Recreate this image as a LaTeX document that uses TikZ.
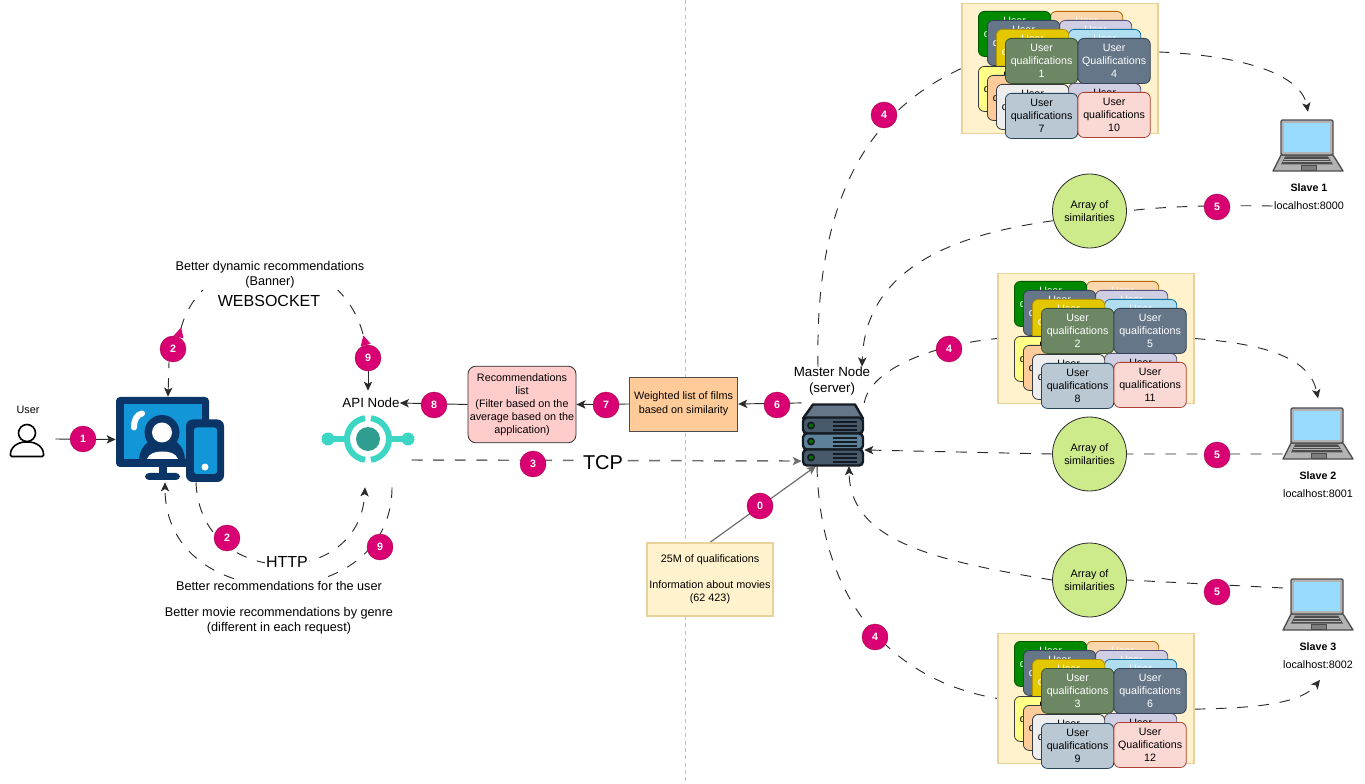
\documentclass[tikz,border=0pt]{standalone}
\usepackage{fontspec}
\setmainfont{Liberation Sans}
\usetikzlibrary{shapes.geometric, arrows.meta, positioning, calc, backgrounds}
\definecolor{badgepink}{HTML}{d80073}
\definecolor{badgeline}{HTML}{a50040}
\definecolor{linkgray}{HTML}{2b2b2b}
\definecolor{tcpgray}{HTML}{6e6e6e}
\definecolor{navy}{HTML}{0a3566}
\definecolor{screenblue}{HTML}{1296d8}
\definecolor{apiteal}{HTML}{3dd6c4}
\definecolor{apicore}{HTML}{2f9d90}
\definecolor{panelfill}{HTML}{fff2cc}
\definecolor{panelline}{HTML}{e6d29a}
\definecolor{arrayfill}{HTML}{cdeb8b}
\definecolor{recfill}{HTML}{ffcccc}
\definecolor{weightfill}{HTML}{ffcc99}
\definecolor{lapscreen}{HTML}{99daff}
\definecolor{lapgray}{HTML}{b3b3b3}
\definecolor{lapdark}{HTML}{4d4d4d}
\definecolor{srvdark}{HTML}{151b22}
\definecolor{srvfill}{HTML}{465a6b}
\definecolor{srvmid}{HTML}{5d8199}
\definecolor{srvtop}{HTML}{647687}

\tikzset{
    laptopicon/.pic={
        \fill[lapgray, draw=lapdark, line width=1pt, line join=round]
            (-27,9.5) -- (25,9.5) -- (35,25.5) -- (-35,25.5) -- cycle;
        \fill[lapdark] (-23,11) -- (20,11) -- (25,19) -- (-27,19) -- cycle;
        \draw[lapgray, line width=.3pt] (-24,13.5) -- (21,13.5);
        \draw[lapgray, line width=.3pt] (-25,16.2) -- (23,16.2);
        \fill[lapgray!70!black, draw=lapdark, line width=.4pt] (-7,20) rectangle (8,25);
        \draw[lapdark, fill=lapgray, line width=1pt, rounded corners=1pt] (-27,-25.5) rectangle (25,9.5);
        \fill[lapscreen] (-24,-22.5) rectangle (22,6.5);
    },
    servericon/.pic={
        \fill[srvtop, draw=srvdark, line width=1.8pt, line join=round]
            (-30,-16) -- (-20,-30) -- (22,-30) -- (30,-16) -- cycle;
        \foreach \ya/\yb/\c in {-17/-1/srvfill, -1/15/srvmid, 15/31/srvfill}{
            \draw[srvdark, fill=\c, line width=1.8pt, rounded corners=3pt] (-30,\ya) rectangle (30,\yb);
            \fill[srvdark] (-22,\ya+8) circle[radius=4];
            \fill[green!45!black] (-22,\ya+8) circle[radius=2];
            \fill[srvdark] (0,\ya+4) rectangle (24,\ya+6);
            \fill[srvdark] (0,\ya+8) rectangle (24,\ya+10);
            \fill[srvdark] (0,\ya+12) rectangle (24,\ya+14);
        }
    },
    deskicon/.pic={
        \fill[navy] (-11,27) rectangle (-3,35);
        \fill[navy, rounded corners=3pt] (-25,33.5) rectangle (10,40.5);
        \fill[navy, rounded corners=3pt] (-54,-42.5) rectangle (39,27.5);
        \fill[screenblue] (-46,-35.5) rectangle (32,19.5);
        \draw[white, line width=4.5pt, line cap=round] (-36,-12) .. controls (-36,-20) and (-33,-25) .. (-28,-26);
        \fill[navy] (-31,19.5) .. controls (-30,5) and (-18,-2) .. (-8,-2)
            .. controls (4,-2) and (14,5) .. (15,19.5) -- cycle;
        \fill[white] (-23,19.5) .. controls (-21,14) and (-15,12) .. (-8,12)
            .. controls (0,12) and (6,14) .. (8,19.5) -- cycle;
        \fill[navy] (-8,-7) circle[radius=17.5];
        \fill[white] (-8,-7) circle[radius=10];
        \fill[navy, rounded corners=5pt] (16,-20) rectangle (54,42.5);
        \fill[screenblue, rounded corners=2pt] (24,-12) rectangle (47,34.5);
        \fill[white] (35,27.5) circle[radius=3.5];
    },
    apiicon/.pic={
        \draw[apiteal, line width=4.5pt] (-40,0) -- (-20,0);
        \draw[apiteal, line width=4.5pt] (40,0) -- (20,0);
        \fill[apiteal] (-40,0) circle[radius=6.5];
        \fill[apiteal] (40,0) circle[radius=6.5];
        \draw[white, line width=2pt] (0,0) circle[radius=21];
        \draw[apiteal, line width=4.5pt] (0,0)+(98:21) arc[start angle=98, end angle=262, radius=21];
        \draw[apiteal, line width=4.5pt] (0,0)+(82:21) arc[start angle=82, end angle=-82, radius=21];
        \fill[apicore] (0,0) circle[radius=12];
    },
    usericon/.pic={
        \draw[black, fill=white, line width=1.2pt, rounded corners=1pt]
            (-16.5,17.5) .. controls (-17,8) and (-9,3) .. (0,3)
            .. controls (9,3) and (17,8) .. (16.5,17.5) -- cycle;
        \draw[black, fill=white, line width=1.2pt] (0,-6) circle[radius=8.5];
    }
}

\newcommand{\qualstack}[9]{
    \begin{scope}[shift={(#2,#3)}]
        \node[panel] (#1panel) at (1060,68.5) {};
        \foreach \cx/\cy/\cfill/\cdraw/\ctext [count=\i] in {
            1050/11/fad7ac/b46504/white, 1059/20/d0cee2/56517e/white, 1068/29/b1ddf0/10739e/white,
            978/11/008a00/005700/white, 987/20/647687/314354/white, 996/29/e3c800/b09500/white,
            1068/83/d0cee2/56517e/black, 978/66/ffff88/36393d/black, 987/75/ffcc99/36393d/black,
            996/84/eeeeee/36393d/black}{
            \definecolor{cf}{HTML}{\cfill}\definecolor{cd}{HTML}{\cdraw}
            \node[card, fill=cf, draw=cd, text=\ctext] (#1back\i) at (\cx,\cy) {User\\qualifications\\~};
        }
        \node[card, fill=cardolive, draw=cardolived, text=white] (#1a) at (1005,38) {User\\qualifications\\#4};
        \node[card, fill=cardslate, draw=cardslated, text=white] (#1b) at (1077.5,38) {User\\#5\\#6};
        \node[card, fill=cardsteel, draw=cardsteeld] (#1c) at (1005,93) {User\\qualifications\\#7};
        \node[card, fill=cardrose, draw=cardrosed] (#1d) at (1077.5,92) {User\\#8\\#9};
    \end{scope}
}
\definecolor{cardolive}{HTML}{6d8764}
\definecolor{cardolived}{HTML}{3a5431}
\definecolor{cardslate}{HTML}{647687}
\definecolor{cardslated}{HTML}{314354}
\definecolor{cardsteel}{HTML}{bac8d3}
\definecolor{cardsteeld}{HTML}{23445d}
\definecolor{cardrose}{HTML}{fad9d5}
\definecolor{cardrosed}{HTML}{ae4132}

\begin{document}
\begin{tikzpicture}[
    x=0.75pt, y=-0.75pt,
    txt/.style={font=\fontsize{8.1}{9.75}\selectfont, align=center, inner sep=1pt},
    mid/.style={font=\fontsize{9.5}{11.25}\selectfont, align=center, inner sep=1pt, fill=white},
    big/.style={font=\fontsize{12}{14}\selectfont, inner sep=1.5pt, fill=white},
    badge/.style={circle, fill=badgepink, draw=badgeline, line width=.3pt, minimum size=19.5pt, inner sep=0pt,
                  text=white, font=\fontsize{8}{9}\bfseries\selectfont},
    iconbox/.style={rectangle, inner sep=0pt},
    panel/.style={rectangle, fill=panelfill, draw=panelline, line width=.9pt,
                  minimum width=147pt, minimum height=97pt, inner sep=0pt},
    card/.style={rectangle, anchor=north west, rounded corners=4.5pt, line width=.6pt, minimum width=54.3pt,
                 minimum height=33.8pt, inner sep=0pt, align=center, font=\fontsize{8}{9.75}\selectfont},
    stepbox/.style={rectangle, txt, line width=.6pt, draw=linkgray},
    simbox/.style={circle, fill=arrayfill, draw=linkgray, line width=.6pt, minimum size=55.5pt, inner sep=0pt, txt},
    link/.style={line width=.7pt, linkgray, dash pattern=on 8pt off 8pt},
    tip/.style={-{Stealth[length=2.4mm, width=2.2mm, inset=.6mm]}},
    tcplink/.style={line width=1.1pt, tcpgray, dash pattern=on 8.2pt off 8pt},
    feed/.style={line width=.9pt, tcpgray},
    divider/.style={line width=.5pt, lightgray, dash pattern=on 3pt off 2.5pt}
]
    \useasboundingbox (0,0) rectangle (1365,784);

    % left side
    \node[iconbox, minimum width=33.75pt, minimum height=27pt] (user) at (32.5,439) {};
    \node[txt] (userlbl) at (28,410) {User};
    \pic at (27,439) {usericon};
    \node[iconbox, minimum width=81pt, minimum height=63.75pt] (desk) at (170,439.5) {};
    \pic at (170,439.5) {deskicon};
    \node[iconbox, minimum width=69pt, minimum height=72pt] (apinode) at (368,439) {};
    \pic at (368,439) {apiicon};
    \node[font=\fontsize{10}{12}\selectfont, inner sep=0pt] (apilbl) at (371,403) {API Node};

    \node[mid] (bannerlbl) at (270,275) {Better dynamic recommendations\\(Banner)};
    \node[big] (wslbl) at (269,301) {WEBSOCKET};
    \node[big, inner sep=.5pt] (httplbl) at (287,562) {HTTP};
    \node[mid, inner ysep=2pt] (reclbl) at (279,586) {Better recommendations for the user};
    \node[mid] (genrelbl) at (279,620.5) {Better movie recommendations by genre\\(different in each request)};

    % centre boxes
    \node[stepbox, fill=recfill, rounded corners=6pt, minimum width=81pt, minimum height=57.5pt] (reclist) at (522,404.5)
        {Recommendations\\list\\(Filter based on the\\average based on the\\application)};
    \node[stepbox, fill=weightfill, draw=lapdark, minimum width=81.5pt, minimum height=40.5pt,
          font=\fontsize{8.1}{10.5}\selectfont] (weighted) at (683.5,404)
        {Weighted list of films\\based on similarity};
    \node[stepbox, fill=panelfill, draw=panelline, line width=.9pt, minimum width=94.5pt, minimum height=54.8pt] (infobox) at (710,579.5)
        {25M of qualifications\\~\\Information about movies\\(62 423)};
    \node[big, font=\fontsize{15}{17}\selectfont, inner sep=1pt] (tcplbl) at (603,463) {TCP};

    % master
    \node[iconbox, minimum width=46.5pt, minimum height=47pt] (server) at (833,434.5) {};
    \pic at (833,434.5) {servericon};
    \node[font=\fontsize{10}{12}\selectfont, align=center, inner sep=0pt] (masterlbl) at (832,381) {Master Node\\(server)};

    % stacks of cards
    \qualstack{top}{0}{0}{1}{Qualifications}{4}{7}{qualifications}{10}
    \qualstack{mida}{36}{270}{2}{qualifications}{5}{8}{qualifications}{11}
    \qualstack{low}{36}{630}{3}{qualifications}{6}{9}{Qualifications}{12}

    % arrays
    \node[simbox] (arrayone) at (1089.5,211) {Array of\\similarities};
    \node[simbox] (arraytwo) at (1089.5,454) {Array of\\similarities};
    \node[simbox] (arraythree) at (1089.5,580) {Array of\\similarities};

    % slaves
    \node[iconbox, minimum width=52.5pt, minimum height=38.25pt] (slaveone) at (1308,145.5) {};
    \pic at (1308,145.5) {laptopicon};
    \node[txt, font=\fontsize{8}{9.75}\bfseries\selectfont] (slaveonelbl) at (1309,188) {Slave 1};
    \node[txt, minimum height=22pt] (hostone) at (1309,206) {localhost:8000};
    \node[iconbox, minimum width=52.5pt, minimum height=38.25pt] (slavetwo) at (1318,433.5) {};
    \pic at (1318,433.5) {laptopicon};
    \node[txt, font=\fontsize{8}{9.75}\bfseries\selectfont] (slavetwolbl) at (1318,476) {Slave 2};
    \node[txt, minimum height=22pt] (hosttwo) at (1318,494) {localhost:8001};
    \node[iconbox, minimum width=52.5pt, minimum height=38.25pt] (slavethree) at (1318,604.5) {};
    \pic at (1318,604.5) {laptopicon};
    \node[txt, font=\fontsize{8}{9.75}\bfseries\selectfont] (slavethreelbl) at (1318,647) {Slave 3};
    \node[txt, minimum height=22pt] (hostthree) at (1318,665) {localhost:8002};

    % badges
    \node[badge] (bzero) at (760,506) {0};
    \node[badge] (bone) at (83,439) {1};
    \node[badge] (btwo) at (173,349) {2};
    \node[badge] (btwob) at (227,538) {2};
    \node[badge] (bthree) at (533,464) {3};
    \node[badge] (bfoura) at (884,115) {4};
    \node[badge] (bfourb) at (949,349) {4};
    \node[badge] (bfourc) at (875,637) {4};
    \node[badge] (bfivea) at (1217,207) {5};
    \node[badge] (bfiveb) at (1217,455) {5};
    \node[badge] (bfivec) at (1217,592) {5};
    \node[badge] (bsix) at (777,405) {6};
    \node[badge] (bseven) at (606,405) {7};
    \node[badge] (beight) at (434,405) {8};
    \node[badge] (bnine) at (368,358) {9};
    \node[badge] (bnineb) at (380,547) {9};

    \coordinate (divtop) at (685,0);
    \coordinate (divbot) at (685,784);

    \begin{scope}[on background layer]
        \draw[divider] (divtop) -- (divbot);

        \draw[line width=.7pt, linkgray, tip] (user.east) -- (desk.west);
        \draw[link, {Triangle[reversed, length=2.6mm, width=2.6mm, color=badgepink]}-{Triangle[reversed, length=2.6mm, width=2.6mm, color=badgepink]}]
            (btwo.65) .. controls (205,240) and (340,240) .. (bnine.100);
        \draw[link, dash pattern=on 4.5pt off 7.5pt on 14pt off 1pt, tip] ([xshift=-3pt]btwo.south) -- ([xshift=-1.5pt]desk.north);
        \draw[link, dash pattern=on 12pt off 1pt, tip] (bnine.south) -- (apinode.north);
        \draw[link, tip] ([xshift=18pt]apinode.south) .. controls (392,618) and (165,618) .. ([xshift=-3.75pt]desk.south);
        \draw[link, tip] ([xshift=19.5pt]desk.south) .. controls (200,590) and (360,590) .. ([xshift=-2.25pt]apinode.south);

        \draw[line width=.7pt, linkgray, tip] (reclist.west) -- (apilbl.east);
        \draw[line width=.7pt, linkgray, tip] (weighted.west) -- (reclist.east);
        \draw[line width=.7pt, linkgray, tip] (server.north west) -- (weighted.east);
        \draw[tcplink, tip] ([xshift=-2pt,yshift=-15.75pt]apinode.east) -- ([yshift=-19.9pt]server.west);
        \draw[feed, tip] (infobox.north) -- ([xshift=-12.75pt]server.south);

        \draw[link] ([xshift=-10.5pt]masterlbl.north) .. controls (815,210) and (860,115) .. (toppanel.west);
        \draw[link] (server.north east) .. controls (870,370) and (930,345) .. (midapanel.west);
        \draw[link] ([xshift=-12pt]server.south) .. controls (820,600) and (890,680) .. (lowpanel.west);

        \draw[link, tip] ([yshift=12.4pt]toppanel.east) .. controls (1230,55) and (1300,70) .. ([yshift=6pt]slaveone.north);
        \draw[link, tip] (midapanel.east) .. controls (1266,344) and (1310,358) .. ([yshift=7pt]slavetwo.north);
        \draw[link, tip] ([yshift=-8pt]lowpanel.east) .. controls (1250,708) and (1300,705) .. ([xshift=1.5pt]hostthree.south);

        \draw[link] (hostone.west) .. controls (1200,205) and (1160,207) .. (arrayone.east);
        \draw[link] ([yshift=-15.4pt]slavetwo.west) -- (arraytwo.east);
        \draw[link] ([yshift=12.4pt]slavethree.west) -- (arraythree.east);
        \draw[link, tip] (arrayone.195) .. controls (950,235) and (865,270) .. ([xshift=22.5pt]masterlbl.north);
        \draw[link, tip] (arraytwo.west) -- ([yshift=-11.6pt]server.east);
        \draw[link, tip] (arraythree.west) .. controls (930,560) and (850,540) .. ([xshift=12pt]server.south);
    \end{scope}
\end{tikzpicture}
\end{document}
